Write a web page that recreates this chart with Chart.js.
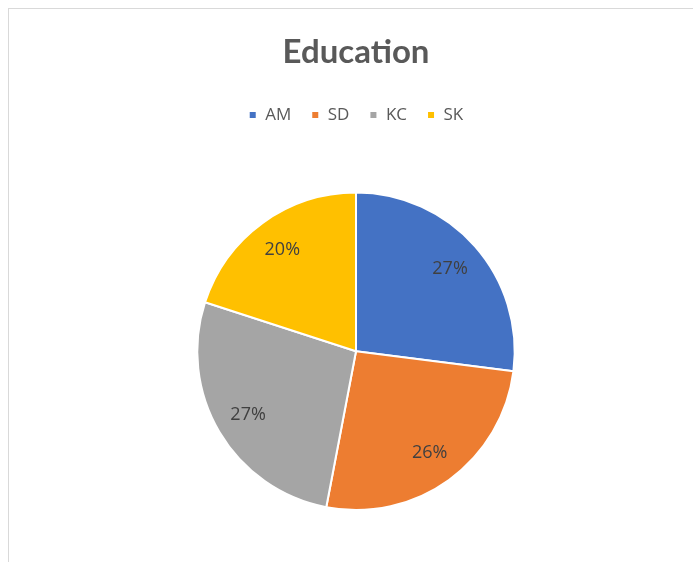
<!DOCTYPE html>
<html lang="en">
<head>
<meta charset="UTF-8">
<title>Education</title>
<script src="https://cdn.jsdelivr.net/npm/chart.js"></script>
<style>
    html, body { margin: 0; padding: 0; background: #fff; }
    #frame {
        position: absolute; left: 8px; top: 8px;
        width: 700px; height: 570px;
        border-left: 1px solid #d9d9d9; border-top: 1px solid #d9d9d9;
    }
    #wrap { position: absolute; left: 0; top: 0; width: 693px; height: 562px; }
</style>
</head>
<body>
<div id="frame"></div>
<div id="wrap"><canvas id="pie"></canvas></div>
<script>
    const categories = ['AM', 'SD', 'KC', 'SK'];
    const shares = [27, 26, 27, 20];
    const sliceColors = ['#4472C4', '#ED7D31', '#A5A5A5', '#FFC000'];

    // draws the percentage inside each slice
    const sliceLabels = {
        id: 'sliceLabels',
        afterDatasetsDraw(chart) {
            const ctx = chart.ctx;
            const total = shares.reduce((s, v) => s + v, 0);
            chart.getDatasetMeta(0).data.forEach((arc, i) => {
                const p = arc.getProps(['x', 'y', 'startAngle', 'endAngle', 'outerRadius'], true);
                const mid = (p.startAngle + p.endAngle) / 2;
                const r = p.outerRadius * 0.79;
                ctx.save();
                ctx.font = '18px "Open Sans", sans-serif';
                ctx.fillStyle = '#404040';
                ctx.textAlign = 'center';
                ctx.textBaseline = 'middle';
                ctx.fillText(Math.round(shares[i] / total * 100) + '%', p.x + Math.cos(mid) * r, p.y + Math.sin(mid) * r);
                ctx.restore();
            });
        }
    };

    // extra gap between legend and pie
    const legendGap = {
        id: 'legendGap',
        beforeInit(chart) {
            const fit = chart.legend.fit;
            chart.legend.fit = function () {
                fit.bind(chart.legend)();
                this.height += 58;
            };
        }
    };

    new Chart(document.getElementById('pie'), {
        type: 'pie',
        data: {
            labels: categories,
            datasets: [{
                data: shares,
                backgroundColor: sliceColors,
                borderColor: '#ffffff',
                borderWidth: 2
            }]
        },
        options: {
            responsive: true,
            maintainAspectRatio: false,
            animation: false,
            layout: { padding: { top: 33, bottom: 51, left: 19, right: 0 } },
            plugins: {
                title: {
                    display: true,
                    text: 'Education',
                    color: '#595959',
                    font: { family: 'Lato', size: 33, weight: 'bold' },
                    padding: { top: 0, bottom: 14 }
                },
                legend: {
                    position: 'top',
                    labels: {
                        color: '#595959',
                        font: { family: '"Open Sans"', size: 17 },
                        boxWidth: 8, boxHeight: 8,
                        padding: 20
                    }
                },
                tooltip: { enabled: false }
            }
        },
        plugins: [legendGap, sliceLabels]
    });
</script>
</body>
</html>
